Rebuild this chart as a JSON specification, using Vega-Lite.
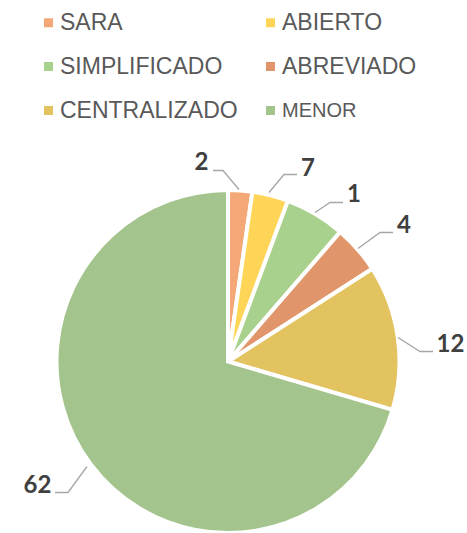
{
  "$schema": "https://vega.github.io/schema/vega-lite/v6.json",
  "width": 456,
  "height": 343,
  "autosize": {"type": "none"},
  "padding": {"left": 0, "top": 190, "right": 11, "bottom": 0},
  "background": "white",
  "datasets": {
    "slices": [
      {"idx": 1, "category": "SARA", "share": 2},
      {"idx": 2, "category": "ABIERTO", "share": 3},
      {"idx": 3, "category": "SIMPLIFICADO", "share": 5},
      {"idx": 4, "category": "ABREVIADO", "share": 4},
      {"idx": 5, "category": "CENTRALIZADO", "share": 12},
      {"idx": 6, "category": "MENOR", "share": 62}
    ],
    "labels": [
      {"label": "2", "dx": -26.5, "dy": 199},
      {"label": "7", "dx": 80, "dy": 193},
      {"label": "1", "dx": 126, "dy": 166.5},
      {"label": "4", "dx": 176, "dy": 135.5},
      {"label": "12", "dx": 222.5, "dy": 17},
      {"label": "62", "dx": -190.5, "dy": -124}
    ],
    "leaders": [
      {"label": "2", "pt": 1, "dx": -15, "dy": 191},
      {"label": "2", "pt": 2, "dx": -5, "dy": 191},
      {"label": "2", "pt": 3, "dx": 11, "dy": 172},
      {"label": "7", "pt": 1, "dx": 69, "dy": 187},
      {"label": "7", "pt": 2, "dx": 56, "dy": 187},
      {"label": "7", "pt": 3, "dx": 41, "dy": 169},
      {"label": "1", "pt": 1, "dx": 115, "dy": 159},
      {"label": "1", "pt": 2, "dx": 102, "dy": 159},
      {"label": "1", "pt": 3, "dx": 87, "dy": 149},
      {"label": "4", "pt": 1, "dx": 165, "dy": 129},
      {"label": "4", "pt": 2, "dx": 152, "dy": 129},
      {"label": "4", "pt": 3, "dx": 130, "dy": 113},
      {"label": "12", "pt": 1, "dx": 205, "dy": 10},
      {"label": "12", "pt": 2, "dx": 192, "dy": 10},
      {"label": "12", "pt": 3, "dx": 170, "dy": 24},
      {"label": "62", "pt": 1, "dx": -173, "dy": -131},
      {"label": "62", "pt": 2, "dx": -160, "dy": -131},
      {"label": "62", "pt": 3, "dx": -141, "dy": -105}
    ]
  },
  "layer": [
    {
      "data": {"name": "slices"},
      "mark": {"type": "arc", "stroke": "white", "strokeWidth": 4},
      "encoding": {
        "theta": {"field": "share", "type": "quantitative", "stack": true},
        "order": {"field": "idx", "type": "quantitative"},
        "color": {
          "field": "category",
          "type": "nominal",
          "scale": {
            "domain": ["SARA", "SIMPLIFICADO", "CENTRALIZADO", "ABIERTO", "ABREVIADO", "MENOR"],
            "range": ["#F4A877", "#A9D18E", "#E3C260", "#FFD557", "#E0966A", "#A3C48C"]
          },
          "sort": null,
          "legend": {
            "orient": "none",
            "legendX": 37,
            "legendY": -179,
            "columns": 2,
            "title": null,
            "symbolType": "square",
            "symbolSize": 81,
            "symbolStrokeWidth": 0,
            "labelFont": "Liberation Sans",
            "labelFontSize": {"expr": "datum.label === 'MENOR' ? 20 : 23"},
            "labelColor": "#595959",
            "labelOffset": 0,
            "labelLimit": 400,
            "rowPadding": 20,
            "columnPadding": 21,
            "padding": 0
          }
        }
      }
    },
    {
      "data": {"name": "leaders"},
      "mark": {"type": "line", "color": "#A6A6A6", "strokeWidth": 1.3},
      "encoding": {
        "x": {"field": "dx", "type": "quantitative", "scale": {"domain": [-228, 228], "nice": false, "zero": false}, "axis": null},
        "y": {"field": "dy", "type": "quantitative", "scale": {"domain": [-171.5, 171.5], "nice": false, "zero": false}, "axis": null},
        "detail": {"field": "label", "type": "nominal"},
        "order": {"field": "pt", "type": "quantitative"}
      }
    },
    {
      "data": {"name": "labels"},
      "mark": {"type": "text", "font": "Lato", "fontWeight": "bold", "fontSize": 24, "color": "#404040", "align": "center", "baseline": "middle"},
      "encoding": {
        "x": {"field": "dx", "type": "quantitative", "scale": {"domain": [-228, 228], "nice": false, "zero": false}, "axis": null},
        "y": {"field": "dy", "type": "quantitative", "scale": {"domain": [-171.5, 171.5], "nice": false, "zero": false}, "axis": null},
        "text": {"field": "label", "type": "nominal"}
      }
    }
  ],
  "config": {"view": {"stroke": null}}
}
